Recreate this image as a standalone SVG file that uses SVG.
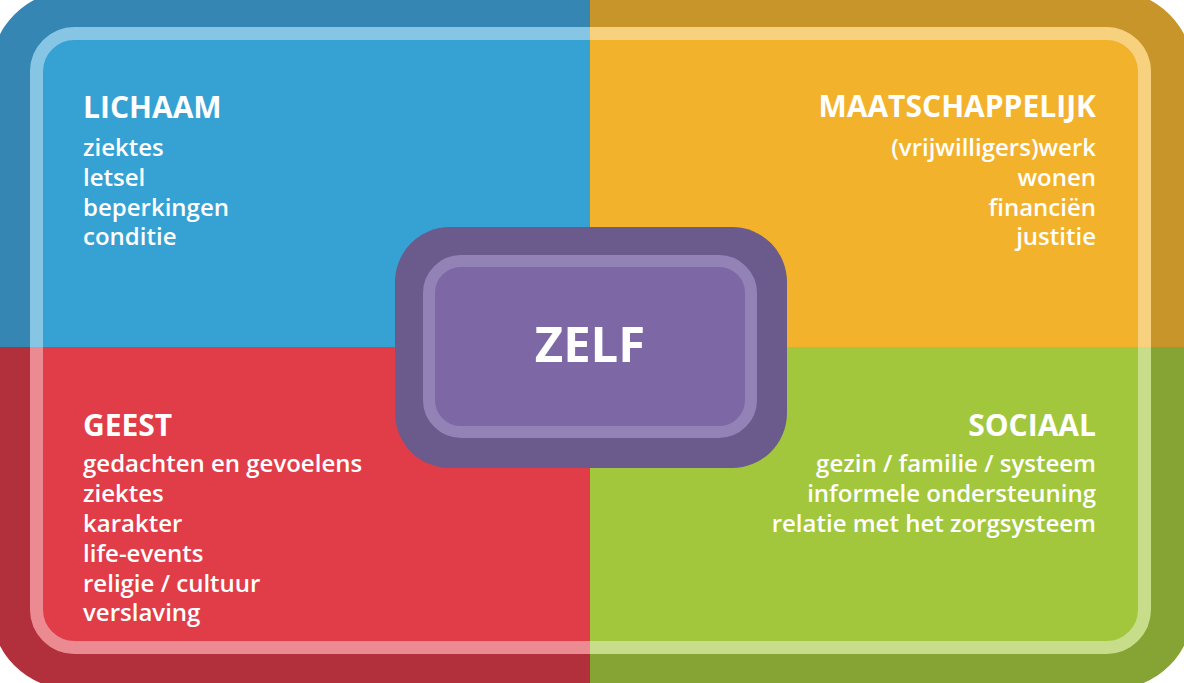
<svg xmlns="http://www.w3.org/2000/svg" width="1184" height="683" viewBox="0 0 1184 683">
<style>
.t{font-family:"Open Sans","Noto Sans","Liberation Sans",sans-serif;fill:#ffffff}
.h{font-size:30px;font-weight:700}
.i{font-size:24px;font-weight:600}
.r{text-anchor:end}
</style>
<defs>
<clipPath id="outer"><rect x="-9" y="-9" width="1202" height="698" rx="80"/></clipPath>
<clipPath id="inner"><rect x="30" y="27" width="1121" height="627" rx="45"/></clipPath>
</defs>
<g id="frame">
<g clip-path="url(#outer)">
<rect x="-10" y="-10" width="600" height="357" fill="#3586b2"/>
<rect x="590" y="-10" width="604" height="357" fill="#c8952a"/>
<rect x="-10" y="347" width="600" height="346" fill="#b22f3c"/>
<rect x="590" y="347" width="604" height="346" fill="#86a434"/>
</g>
<g clip-path="url(#inner)">
<rect x="0" y="0" width="590" height="347" fill="#36a1d3"/>
<rect x="590" y="0" width="594" height="347" fill="#f3b22b"/>
<rect x="0" y="347" width="590" height="336" fill="#e03d49"/>
<rect x="590" y="347" width="594" height="336" fill="#a2c73c"/>
</g>
<rect x="36.5" y="33.5" width="1108" height="614" rx="38" fill="none" stroke="#ffffff" stroke-opacity="0.4" stroke-width="13"/>
</g>
<g id="lichaam">
<text class="t h" x="83" y="118">LICHAAM</text>
<text class="t i" x="83" y="156">ziektes</text>
<text class="t i" x="83" y="186">letsel</text>
<text class="t i" x="83" y="216">beperkingen</text>
<text class="t i" x="83" y="245">conditie</text>
</g>
<g id="maatschappelijk">
<text class="t h r" x="1096" y="117">MAATSCHAPPELIJK</text>
<text class="t i r" x="1096" y="156">(vrijwilligers)werk</text>
<text class="t i r" x="1096" y="186">wonen</text>
<text class="t i r" x="1096" y="216">financiën</text>
<text class="t i r" x="1096" y="245">justitie</text>
</g>
<g id="geest">
<text class="t h" x="83" y="436">GEEST</text>
<text class="t i" x="83" y="472">gedachten en gevoelens</text>
<text class="t i" x="83" y="502">ziektes</text>
<text class="t i" x="83" y="532">karakter</text>
<text class="t i" x="83" y="562">life-events</text>
<text class="t i" x="83" y="592">religie / cultuur</text>
<text class="t i" x="83" y="621">verslaving</text>
</g>
<g id="sociaal">
<text class="t h r" x="1096" y="436">SOCIAAL</text>
<text class="t i r" x="1096" y="472">gezin / familie / systeem</text>
<text class="t i r" x="1096" y="502">informele ondersteuning</text>
<text class="t i r" x="1096" y="532">relatie met het zorgsysteem</text>
</g>
<g id="zelf">
<rect x="395" y="227" width="392" height="241" rx="55" fill="#6b5a8c"/>
<rect x="429" y="261" width="322" height="171" rx="32" fill="#7d68a5" stroke="#9282b6" stroke-width="12"/>
<text class="t" x="590" y="362" text-anchor="middle" font-size="49" font-weight="700">ZELF</text>
</g>
</svg>
